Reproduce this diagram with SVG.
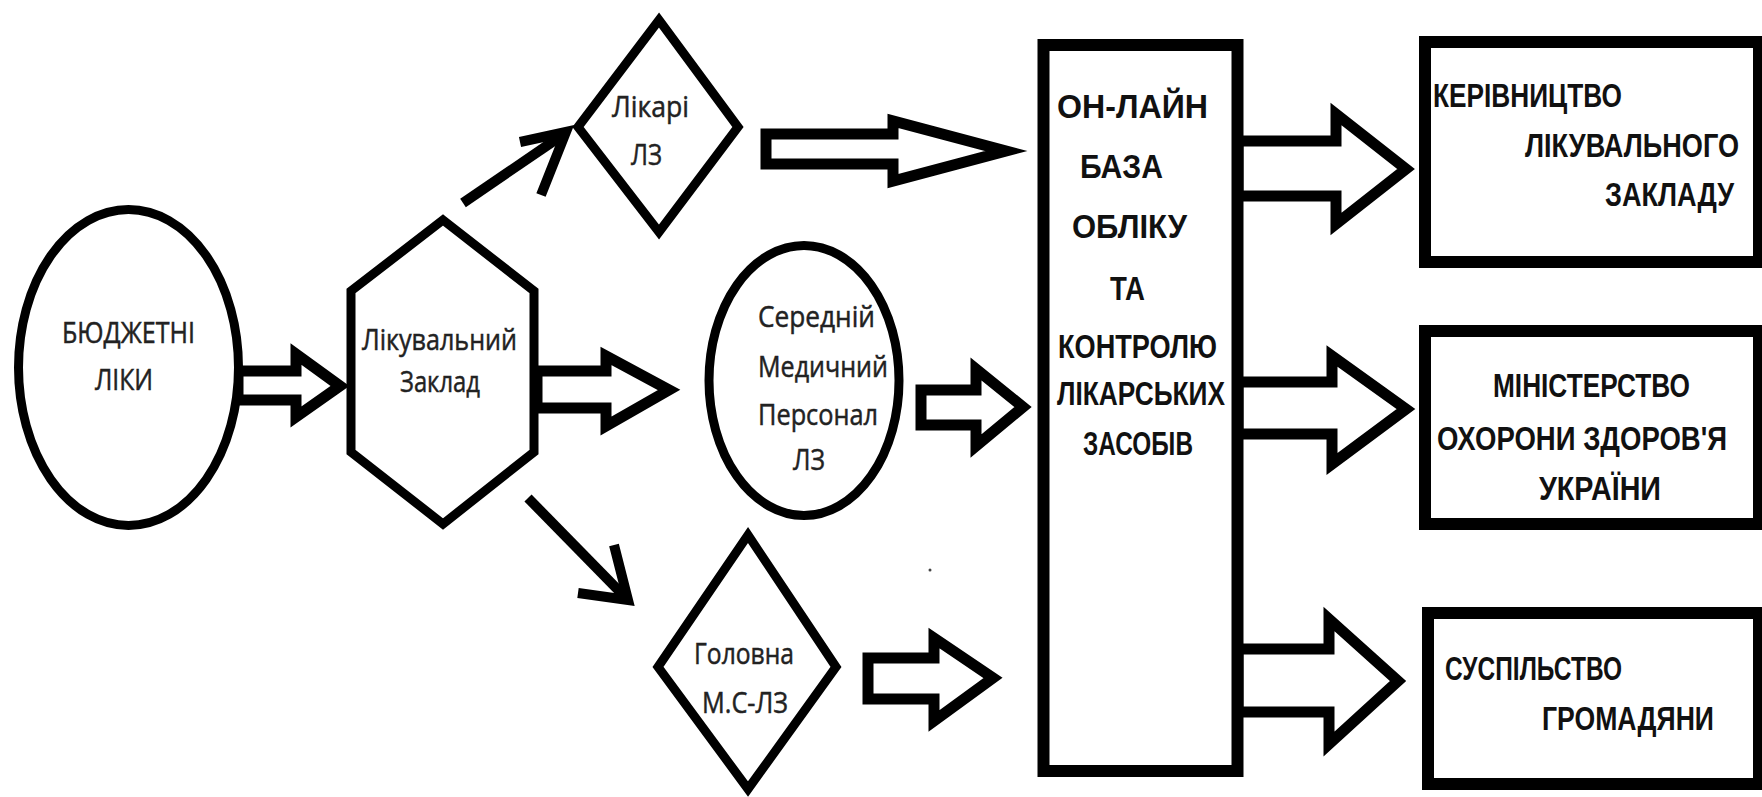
<svg xmlns="http://www.w3.org/2000/svg" width="1762" height="797" viewBox="0 0 1762 797">
<style>
.shape{fill:#fff;stroke:#000;stroke-width:9;stroke-linejoin:miter}
.box{fill:#fff;stroke:#000;stroke-width:12}
.blk{fill:#fff;stroke:#000;stroke-width:11;stroke-linejoin:miter;stroke-miterlimit:10}
.ln{fill:none;stroke:#000;stroke-width:10;stroke-linejoin:miter;stroke-linecap:butt;stroke-miterlimit:10}
.t{font-family:"Open Sans","Noto Sans","DejaVu Sans",sans-serif;fill:#222;stroke:#222;stroke-width:0.5;font-size:30px}
.b{font-family:"Liberation Sans",Arial,sans-serif;font-weight:bold;fill:#111;font-size:33px}
</style>
<rect width="1762" height="797" fill="#fff"/>
<g id="connectors">
<polygon class="blk" points="238,371 296,371 296,354 340,386 296,417 296,400 238,400"/>
<polygon class="blk" points="537,371 606,371 606,356 669,390 606,426 606,408 537,408"/>
<polygon class="blk" points="766,134 893,134 893,121 1006,151 893,181 893,164 766,164"/>
<polygon class="blk" points="921,390 976,390 976,369 1023,407 976,446 976,425 921,425"/>
<polygon class="blk" points="868,658 934,658 934,638 993,678 934,721 934,699 868,699"/>
<polygon class="blk" points="1238,141 1336,141 1336,114 1406,169 1336,224 1336,196 1238,196"/>
<polygon class="blk" points="1238,382 1332,382 1332,356 1406,409 1332,464 1332,434 1238,434"/>
<polygon class="blk" points="1238,649 1329,649 1329,619 1398,681 1329,744 1329,712 1238,712"/>
<line class="ln" x1="463" y1="203" x2="564" y2="134"/>
<polyline class="ln" points="520,142 566,132 541,195"/>
<line class="ln" x1="528" y1="498" x2="626" y2="598"/>
<polyline class="ln" points="614,545 628,600 578,593"/>
</g>
<g id="node-budget">
<ellipse class="shape" cx="128.5" cy="367.5" rx="110" ry="158"/>
<text class="t" x="62" y="343" textLength="133" lengthAdjust="spacingAndGlyphs">БЮДЖЕТНІ</text>
<text class="t" x="95" y="390" textLength="58" lengthAdjust="spacingAndGlyphs">ЛІКИ</text>
</g>
<g id="node-hospital">
<polygon class="shape" points="443,220 534,291 534,452 443,524 351,452 351,291"/>
<text class="t" x="362" y="350" font-size="32" textLength="155" lengthAdjust="spacingAndGlyphs">Лікувальний</text>
<text class="t" x="400" y="392" font-size="32" textLength="80" lengthAdjust="spacingAndGlyphs">Заклад</text>
</g>
<g id="node-doctors">
<polygon class="shape" points="659,20 738,127 659,232 578,127"/>
<text class="t" x="612" y="117" font-size="28" textLength="77" lengthAdjust="spacingAndGlyphs">Лікарі</text>
<text class="t" x="631" y="165" font-size="28" textLength="31" lengthAdjust="spacingAndGlyphs">ЛЗ</text>
</g>
<g id="node-nurses">
<ellipse class="shape" cx="804" cy="380.5" rx="95" ry="135"/>
<text class="t" x="758" y="327" textLength="117" lengthAdjust="spacingAndGlyphs">Середній</text>
<text class="t" x="758" y="377" textLength="130" lengthAdjust="spacingAndGlyphs">Медичний</text>
<text class="t" x="758" y="425" textLength="120" lengthAdjust="spacingAndGlyphs">Персонал</text>
<text class="t" x="793" y="470" textLength="32" lengthAdjust="spacingAndGlyphs">ЛЗ</text>
</g>
<g id="node-head-nurse">
<polygon class="shape" points="748,535 836,667 748,789 658,667"/>
<text class="t" x="694" y="664" font-size="29" textLength="100" lengthAdjust="spacingAndGlyphs">Головна</text>
<text class="t" x="702" y="713" font-size="29" textLength="86" lengthAdjust="spacingAndGlyphs">М.С-ЛЗ</text>
</g>
<g id="node-database">
<rect class="box" x="1043.5" y="45" width="194" height="726" stroke-width="11"/>
<text class="b" transform="translate(1057 118) scale(0.76 1)" font-size="42" textLength="198.7" lengthAdjust="spacingAndGlyphs">ОН-ЛАЙН</text>
<text class="b" transform="translate(1080 178) scale(0.76 1)" font-size="39" textLength="109.2" lengthAdjust="spacingAndGlyphs">БАЗА</text>
<text class="b" transform="translate(1072 238) scale(0.76 1)" font-size="39" textLength="151.3" lengthAdjust="spacingAndGlyphs">ОБЛІКУ</text>
<text class="b" transform="translate(1110 300) scale(0.76 1)" font-size="35" textLength="46.1" lengthAdjust="spacingAndGlyphs">ТА</text>
<text class="b" transform="translate(1058 358) scale(0.76 1)" font-size="32" textLength="209.2" lengthAdjust="spacingAndGlyphs">КОНТРОЛЮ</text>
<text class="b" transform="translate(1057 405) scale(0.76 1)" font-size="32" textLength="221.1" lengthAdjust="spacingAndGlyphs">ЛІКАРСЬКИХ</text>
<text class="b" transform="translate(1083 455) scale(0.76 1)" font-size="32" textLength="144.7" lengthAdjust="spacingAndGlyphs">ЗАСОБІВ</text>
</g>
<g id="node-management">
<rect class="box" x="1425" y="42" width="334" height="220"/>
<text class="b" transform="translate(1433 107) scale(0.76 1)" textLength="248.7" lengthAdjust="spacingAndGlyphs">КЕРІВНИЦТВО</text>
<text class="b" transform="translate(1525 157) scale(0.76 1)" textLength="281.6" lengthAdjust="spacingAndGlyphs">ЛІКУВАЛЬНОГО</text>
<text class="b" transform="translate(1605 206) scale(0.76 1)" textLength="169.7" lengthAdjust="spacingAndGlyphs">ЗАКЛАДУ</text>
</g>
<g id="node-ministry">
<rect class="box" x="1425" y="331" width="334" height="193"/>
<text class="b" transform="translate(1493 397) scale(0.76 1)" textLength="259.2" lengthAdjust="spacingAndGlyphs">МІНІСТЕРСТВО</text>
<text class="b" transform="translate(1437 450) scale(0.76 1)" textLength="381.6" lengthAdjust="spacingAndGlyphs">ОХОРОНИ ЗДОРОВ'Я</text>
<text class="b" transform="translate(1539 500) scale(0.76 1)" textLength="160.5" lengthAdjust="spacingAndGlyphs">УКРАЇНИ</text>
</g>
<g id="node-society">
<rect class="box" x="1428" y="613" width="331" height="171"/>
<text class="b" transform="translate(1445 680) scale(0.76 1)" textLength="232.9" lengthAdjust="spacingAndGlyphs">СУСПІЛЬСТВО</text>
<text class="b" transform="translate(1542 730) scale(0.76 1)" textLength="226.3" lengthAdjust="spacingAndGlyphs">ГРОМАДЯНИ</text>
</g>
<circle cx="930" cy="570" r="1.5" fill="#444"/>
</svg>
